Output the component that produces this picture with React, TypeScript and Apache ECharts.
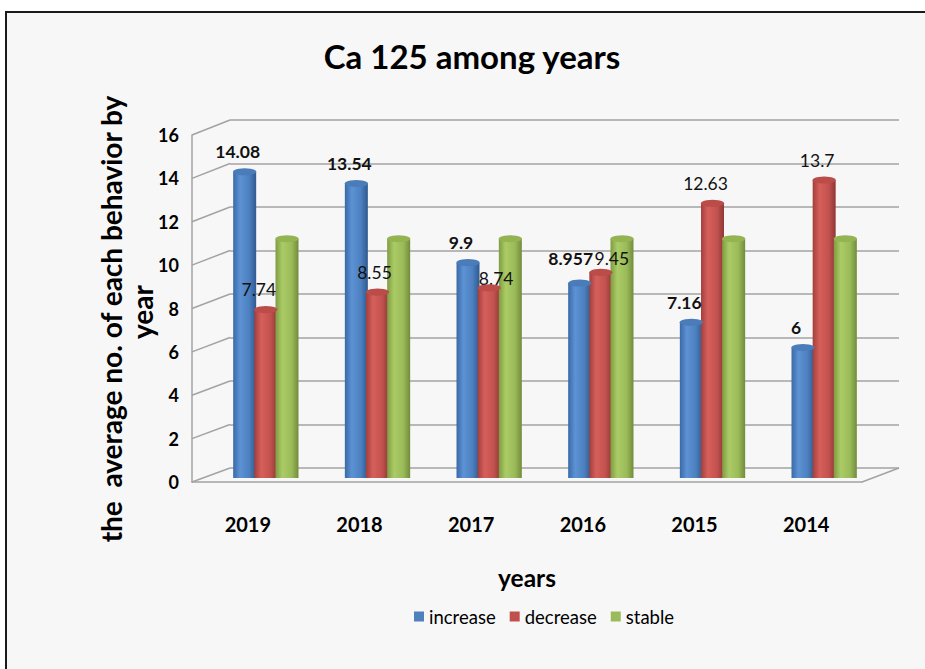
import React, { useEffect, useRef } from "react";
import * as echarts from "echarts";

const categories = ["2019", "2018", "2017", "2016", "2015", "2014"];
const increase = [14.08, 13.54, 9.9, 8.957, 7.16, 6];
const decrease = [7.74, 8.55, 8.74, 9.45, 12.63, 13.7];
const stable = [11, 11, 11, 11, 11, 11];
const yMin = 0;
const yMax = 16;
const yInterval = 2;

const FONT = "Lato, 'Open Sans', sans-serif";

// layout (pseudo-3D: front plane, bar plane, back wall)
const FRONT = { left: 192, top: 135, width: 670, height: 347 };
const MID = { left: 210, top: 130, width: 670, height: 348 };
const BACK = { left: 230, top: 120, width: 669, height: 348 };
const LINE = "#a3a3a3";

// small manual nudges of a few data labels (style only)
const incNudge: Record<number, [number, number]> = { 3: [-2, -5] };
const decNudge: Record<number, [number, number]> = { 1: [4, 0], 2: [14, 11], 3: [18, 6] };

function cyl(c0: string, c1: string, c2: string, c3: string) {
  return new echarts.graphic.LinearGradient(0, 0, 1, 0, [
    { offset: 0, color: c0 },
    { offset: 0.3, color: c1 },
    { offset: 0.7, color: c2 },
    { offset: 1, color: c3 },
  ]);
}

export default function App() {
  const ref = useRef<HTMLDivElement>(null);
  useEffect(() => {
    if (!ref.current) return;
    document.documentElement.style.overflow = "hidden";
    document.body.style.margin = "0";
    document.body.style.overflow = "hidden";
    const chart = echarts.init(ref.current, undefined, { renderer: "svg" });

    const ticks = (yMax - yMin) / yInterval;
    const sideLines: any[] = [];
    for (let k = 0; k <= ticks; k++) {
      const yf = FRONT.top + FRONT.height - (k * FRONT.height) / ticks;
      const yb = BACK.top + BACK.height - (k * BACK.height) / ticks;
      sideLines.push({
        type: "line",
        shape: { x1: FRONT.left, y1: yf, x2: BACK.left, y2: yb },
        style: { stroke: LINE, lineWidth: 1.5 },
        silent: true,
      });
    }
    sideLines.push({
      type: "line",
      shape: {
        x1: FRONT.left + FRONT.width,
        y1: FRONT.top + FRONT.height,
        x2: BACK.left + BACK.width,
        y2: BACK.top + BACK.height,
      },
      style: { stroke: LINE, lineWidth: 1.5 },
      silent: true,
    });

    const mkLabel = (bold: boolean, nudge: Record<number, [number, number]>, vals: number[]) =>
      vals.map((v, i) => {
        const n = nudge[i] || [0, 0];
        return {
          value: v,
          label: {
            show: true,
            position: "top",
            distance: 11,
            offset: [-7 + n[0], n[1]],
            fontSize: 17.5,
            fontFamily: FONT,
            fontWeight: bold ? "bold" : "normal",
            color: "#111",
          },
        };
      });

    const barCommon = {
      type: "bar",
      xAxisIndex: 1,
      yAxisIndex: 1,
      barWidth: 23,
      barGap: "-8%",
      z: 3,
    };
    const topCommon = {
      type: "pictorialBar",
      xAxisIndex: 1,
      yAxisIndex: 1,
      symbol: "circle",
      symbolSize: [23, 7],
      symbolPosition: "end",
      symbolOffset: [0, "-50%"],
      barWidth: 23,
      barGap: "-8%",
      z: 4,
      silent: true,
    };

    chart.setOption({
      animation: false,
      backgroundColor: "#ffffff",
      grid: [
        { ...FRONT, containLabel: false },
        { ...MID, containLabel: false },
        { ...BACK, containLabel: false },
      ],
      xAxis: [
        {
          gridIndex: 0,
          type: "category",
          data: categories,
          axisLine: { show: true, lineStyle: { color: LINE, width: 1.5 } },
          axisTick: { show: false },
          axisLabel: {
            margin: 32,
            fontSize: 20,
            fontWeight: "bold",
            fontFamily: FONT,
            color: "#000",
          },
        },
        { gridIndex: 1, type: "category", data: categories, show: false },
        { gridIndex: 2, type: "category", data: categories, show: false },
      ],
      yAxis: [
        {
          gridIndex: 0,
          type: "value",
          min: yMin,
          max: yMax,
          interval: yInterval,
          axisLine: { show: true, lineStyle: { color: LINE, width: 1.5 } },
          axisTick: { show: false },
          splitLine: { show: false },
          axisLabel: {
            margin: 13,
            fontSize: 18,
            fontWeight: "bold",
            fontFamily: FONT,
            color: "#000",
          },
        },
        { gridIndex: 1, type: "value", min: yMin, max: yMax, interval: yInterval, show: false },
        {
          gridIndex: 2,
          type: "value",
          min: yMin,
          max: yMax,
          interval: yInterval,
          axisLine: { show: false },
          axisTick: { show: false },
          axisLabel: { show: false },
          splitLine: { show: true, lineStyle: { color: LINE, width: 1.5 } },
        },
      ],
      legend: {
        data: [
          { name: "increase", itemStyle: { color: "#4F81BD" } },
          { name: "decrease", itemStyle: { color: "#C0504D" } },
          { name: "stable", itemStyle: { color: "#9BBB59" } },
        ],
        icon: "rect",
        itemWidth: 10,
        itemHeight: 10,
        itemGap: 14,
        left: 409,
        top: 602,
        textStyle: { fontSize: 18.5, fontFamily: FONT, color: "#000" },
      },
      graphic: [
        {
          type: "rect",
          z: -10,
          silent: true,
          shape: { x: 5, y: 11, width: 920, height: 658 },
          style: { fill: "#f7f7f7" },
        },
        {
          type: "line",
          z: -9,
          silent: true,
          shape: { x1: 5, y1: 12, x2: 925, y2: 12 },
          style: { stroke: "#1a1a1a", lineWidth: 2 },
        },
        {
          type: "line",
          z: -9,
          silent: true,
          shape: { x1: 6, y1: 11, x2: 6, y2: 669 },
          style: { stroke: "#1a1a1a", lineWidth: 2 },
        },
        ...sideLines,
        {
          type: "text",
          x: 472,
          y: 56,
          style: {
            text: "Ca 125 among years",
            font: `bold 33px ${FONT}`,
            fill: "#000",
            textAlign: "center",
            textVerticalAlign: "middle",
          },
        },
        {
          type: "text",
          x: 527,
          y: 577,
          style: {
            text: "years",
            font: `bold 24.5px ${FONT}`,
            fill: "#000",
            textAlign: "center",
            textVerticalAlign: "middle",
          },
        },
        {
          type: "text",
          x: 111,
          y: 319,
          rotation: Math.PI / 2,
          style: {
            text: "the  average no. of each behavior by",
            font: `bold 28px ${FONT}`,
            fill: "#000",
            textAlign: "center",
            textVerticalAlign: "middle",
          },
        },
        {
          type: "text",
          x: 142,
          y: 312,
          rotation: Math.PI / 2,
          style: {
            text: "year",
            font: `bold 28px ${FONT}`,
            fill: "#000",
            textAlign: "center",
            textVerticalAlign: "middle",
          },
        },
      ],
      series: [
        {
          ...barCommon,
          name: "increase",
          itemStyle: { color: cyl("#3a69a6", "#5d92d4", "#4c80bf", "#2f5990") },
          data: mkLabel(true, incNudge, increase),
        },
        {
          ...barCommon,
          name: "decrease",
          itemStyle: { color: cyl("#a23f3c", "#d65f5b", "#c2524f", "#8f3734") },
          data: mkLabel(false, decNudge, decrease),
        },
        {
          ...barCommon,
          name: "stable",
          itemStyle: { color: cyl("#7f9c42", "#abcb66", "#9bbb59", "#728c3b") },
          data: stable,
        },
        { ...topCommon, name: "increase-top", itemStyle: { color: "#4a7cba" }, data: increase },
        { ...topCommon, name: "decrease-top", itemStyle: { color: "#bb4c49" }, data: decrease },
        { ...topCommon, name: "stable-top", itemStyle: { color: "#94b452" }, data: stable },
      ],
    });
    return () => chart.dispose();
  }, []);

  return (
    <div
      ref={ref}
      style={{ position: "fixed", left: 0, top: 0, width: 925, height: 669 }}
    />
  );
}
